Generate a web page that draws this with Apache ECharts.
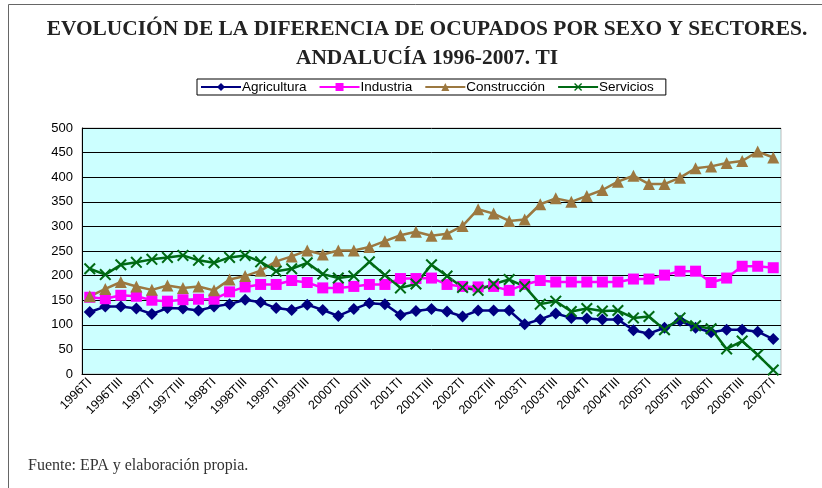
<!DOCTYPE html>
<html>
<head>
<meta charset="utf-8">
<style>
  html, body { margin: 0; padding: 0; background: #fff; }
  #main { width: 822px; height: 488px; }
</style>
<script src="https://cdn.jsdelivr.net/npm/echarts@6/dist/echarts.min.js"></script>
</head>
<body>
<div id="main"></div>
<script>
// trimestres 1996TI - 2007TI
var quarters = [];
for (var y = 1996; y <= 2007; y++) {
    ['TI', 'TII', 'TIII', 'TIV'].forEach(function (t) {
        if (y < 2007 || t === 'TI') quarters.push(y + t);
    });
}

var agricultura = [126,137,137,133,122,134,133,129,137,142,151,146,134,130,141,130,118,132,144,142,120,128,132,127,117,129,129,129,101,111,123,114,113,111,111,89,82,94,108,94,85,90,90,86,71];
var industria = [156,153,160,158,150,148,151,152,152,167,177,182,182,190,186,175,175,178,182,182,194,194,195,182,178,177,178,170,182,190,187,187,187,187,187,193,193,201,209,209,186,195,219,219,216];
var construccion = [158,173,187,178,171,180,175,178,170,192,199,210,229,239,251,243,251,251,258,270,282,289,281,285,301,335,326,311,314,345,357,350,362,374,391,403,386,386,399,418,422,429,433,452,440];
var servicios = [214,202,222,227,233,237,241,231,226,237,241,228,209,214,226,203,195,199,228,201,175,183,222,199,176,170,183,192,178,142,148,127,133,128,129,114,117,90,114,98,92,51,67,39,8];

var crossIcon = 'path://M0,1.2 L1.2,0 L5,3.8 L8.8,0 L10,1.2 L6.2,5 L10,8.8 L8.8,10 L5,6.2 L1.2,10 L0,8.8 L3.8,5 Z';

var myChart = echarts.init(document.getElementById('main'));

function serie(name, data, color, symbol, size) {
    return {
        name: name,
        type: 'line',
        data: data,
        symbol: symbol,
        symbolSize: size,
        showAllSymbol: true,
        itemStyle: { color: color },
        lineStyle: { color: color, width: 2.5 },
        animation: false
    };
}

var option = {
    backgroundColor: '#fff',
    title: {
        text: 'EVOLUCIÓN DE LA DIFERENCIA DE OCUPADOS POR SEXO Y SECTORES.\nANDALUCÍA 1996-2007. TI',
        left: 422,
        textAlign: 'center',
        top: 10,
        textStyle: {
            fontFamily: 'Liberation Serif',
            fontWeight: 'bold',
            fontSize: 21.4,
            lineHeight: 29,
            color: '#222'
        }
    },
    legend: {
        top: 79,
        left: 197,
        itemWidth: 40,
        itemHeight: 10,
        itemGap: 12,
        padding: [1, 12, 1, 3],
        borderColor: '#000',
        borderWidth: 1,
        textStyle: { fontFamily: 'Liberation Sans', fontSize: 13.5, color: '#000', padding: [0, 0, 0, -4] },
        data: ['Agricultura', 'Industria', 'Construcción', 'Servicios']
    },
    grid: { left: 82, right: 41, top: 128, bottom: 114, backgroundColor: '#CCFFFF', show: true, borderColor: '#bbb', borderWidth: 1 },
    xAxis: {
        type: 'category',
        data: quarters,
        axisLine: { lineStyle: { color: '#000' } },
        axisTick: { interval: 0, length: 4, lineStyle: { color: '#000' } },
        axisLabel: {
            interval: 1,
            rotate: 45,
            margin: 6,
            fontFamily: 'Liberation Sans',
            fontSize: 12.5,
            color: '#000'
        }
    },
    yAxis: {
        type: 'value',
        min: 0,
        max: 500,
        interval: 50,
        axisLine: { show: true, lineStyle: { color: '#000' } },
        axisTick: { show: false },
        axisLabel: { fontFamily: 'Liberation Sans', fontSize: 13, color: '#000', margin: 9 },
        splitLine: { lineStyle: { color: '#000', width: 1 } }
    },
    graphic: [{
        type: 'rect',
        shape: { x: 8.5, y: 4.5, width: 900, height: 600 },
        style: { fill: 'none', stroke: '#666', lineWidth: 1 },
        silent: true
    }, {
        type: 'text',
        left: 28,
        top: 458,
        style: {
            text: 'Fuente: EPA y elaboración propia.',
            font: '16px "Liberation Serif"',
            fill: '#333'
        }
    }],
    series: [
        serie('Agricultura', agricultura, '#000080', 'diamond', 12),
        serie('Industria', industria, '#FF00FF', 'rect', 11),
        serie('Construcción', construccion, '#9C7840', 'triangle', 12),
        serie('Servicios', servicios, '#006A14', crossIcon, 12)
    ]
};

myChart.setOption(option);
</script>
</body>
</html>
